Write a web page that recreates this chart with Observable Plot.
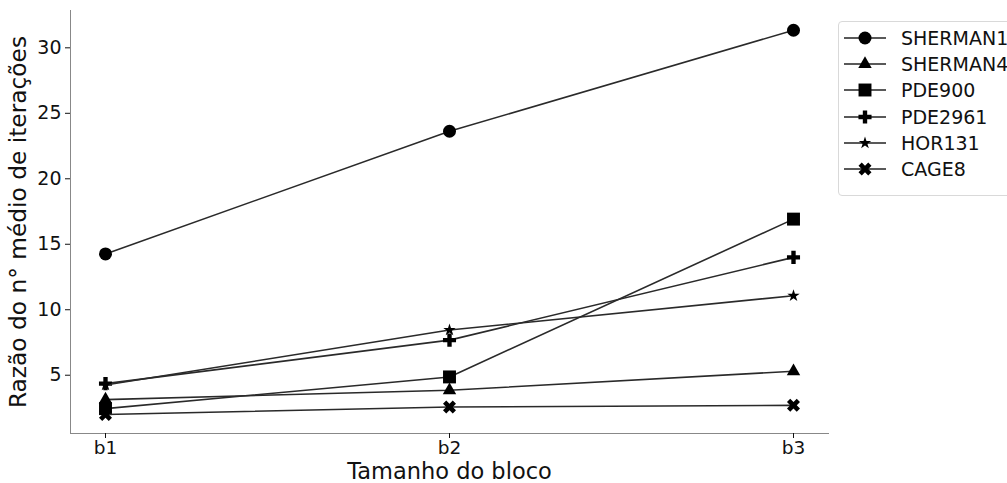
<!DOCTYPE html>
<html>
<head>
<meta charset="utf-8">
<script src="https://cdn.jsdelivr.net/npm/d3@7"></script>
<script src="https://cdn.jsdelivr.net/npm/@observablehq/plot@0.6"></script>
<style>
  html, body { margin: 0; padding: 0; background: #fff; }
  #wrap { position: relative; width: 1007px; height: 483px; overflow: hidden; font-family: "DejaVu Sans", sans-serif; }
  #legend { position: absolute; left: 838px; top: 21px; width: 200px; height: 175px; border: 1px solid #d9d9d9; border-radius: 4px; box-sizing: border-box; background: #fff; }
  .row { position: absolute; left: 0; height: 26px; display: flex; align-items: center; white-space: nowrap; font-size: 19px; color: #111; }
  .row svg { margin-left: 5px; margin-right: 15px; }
</style>
</head>
<body>
<div id="wrap"><div id="legend"></div></div>
<script>
// ---- data ----
const blocks = ["b1", "b2", "b3"];
const seriesNames = ["SHERMAN1", "SHERMAN4", "PDE900", "PDE2961", "HOR131", "CAGE8"];
const sherman1 = [14.26, 23.63, 31.34];
const sherman4 = [3.14, 3.85, 5.30];
const pde900   = [2.45, 4.87, 16.92];
const pde2961  = [4.36, 7.68, 14.00];
const hor131   = [4.25, 8.45, 11.07];
const cage8    = [2.00, 2.57, 2.70];
const yTicks = [5, 10, 15, 20, 25, 30];
const seriesValues = [sherman1, sherman4, pde900, pde2961, hor131, cage8];

// filled "X" marker (cross rotated 45°)
const symbolXFilled = {
  draw(ctx, size) {
    const r = Math.sqrt(size / 5) / 2;
    const pts = [[-3*r,-r],[-r,-r],[-r,-3*r],[r,-3*r],[r,-r],[3*r,-r],[3*r,r],[r,r],[r,3*r],[-r,3*r],[-r,r],[-3*r,r]];
    const s = Math.SQRT1_2;
    pts.forEach(([x, y], i) => {
      const X = (x - y) * s, Y = (x + y) * s;
      if (i === 0) ctx.moveTo(X, Y); else ctx.lineTo(X, Y);
    });
    ctx.closePath();
  }
};
const markerTypes = [d3.symbolCircle, d3.symbolTriangle, d3.symbolSquare, d3.symbolCross, d3.symbolStar, symbolXFilled];
const markerR = [6.5, 5.0, 7.3, 5.5, 3.9, 5.8];

const data = [];
seriesNames.forEach((name, si) => {
  blocks.forEach((b, bi) => data.push({series: name, block: b, value: seriesValues[si][bi]}));
});

const marks = [
  Plot.frame({anchor: "left", stroke: "#888"}),
  Plot.frame({anchor: "bottom", stroke: "#888"}),
  Plot.axisY({ticks: yTicks, tickSize: 5, tickPadding: 4, fontSize: 19, label: null}),
  Plot.axisY({ticks: [], label: "Razão do n° médio de iterações", labelAnchor: "center", labelOffset: 61, labelArrow: "none", fontSize: 23.3}),
  Plot.axisX({tickSize: 5, tickPadding: 2, fontSize: 18.5, label: null}),
  Plot.axisX({ticks: [], label: "Tamanho do bloco", labelAnchor: "center", labelOffset: 45, labelArrow: "none", fontSize: 22.5})
];
seriesNames.forEach((name, si) => {
  const sub = data.filter(d => d.series === name);
  marks.push(Plot.line(sub, {x: "block", y: "value", stroke: "#2a2a2a", strokeWidth: 1.6}));
  marks.push(Plot.dot(sub, {x: "block", y: "value", symbol: markerTypes[si], r: markerR[si], fill: "#000", stroke: "none"}));
});

const chart = Plot.plot({
  width: 1007,
  height: 483,
  marginLeft: 70,
  marginRight: 179,
  marginTop: 10,
  marginBottom: 50,
  style: {fontFamily: "DejaVu Sans, sans-serif", color: "#111", background: "#fff"},
  x: {type: "point", domain: blocks, padding: 0.1},
  y: {domain: [0.55, 32.85]},
  marks
});
document.getElementById("wrap").prepend(chart);

// ---- legend ----
const legend = d3.select("#legend");
seriesNames.forEach((name, si) => {
  const row = legend.append("div").attr("class", "row").style("top", (3 + si * 26.2) + "px");
  const svg = row.append("svg").attr("width", 42).attr("height", 20);
  svg.append("line").attr("x1", 0).attr("x2", 42).attr("y1", 10).attr("y2", 10).attr("stroke", "#222").attr("stroke-width", 1.6);
  svg.append("path")
    .attr("transform", "translate(21,10)")
    .attr("d", d3.symbol(markerTypes[si], Math.PI * markerR[si] * markerR[si])())
    .attr("fill", "#000");
  row.append("span").text(name);
});
</script>
</body>
</html>
